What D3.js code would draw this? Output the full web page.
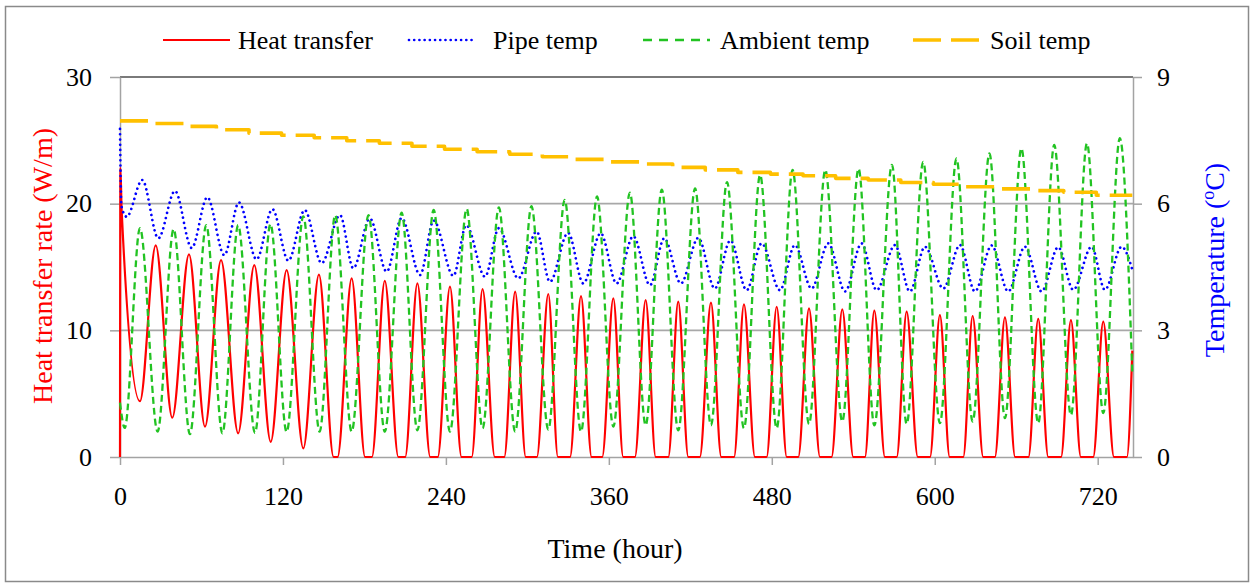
<!DOCTYPE html>
<html>
<head>
<meta charset="utf-8">
<script src="https://cdnjs.cloudflare.com/ajax/libs/d3/7.8.5/d3.min.js"></script>
<style>
  body { margin: 0; background: #fff; }
  svg { display: block; font-family: "Liberation Serif", "Times New Roman", serif; }
</style>
</head>
<body>
<svg id="chart" width="1253" height="586"></svg>
<script>
// Heat transfer rate (W/m): [hour, value] at turning points of each daily cycle
const heatTransfer = [
  [0,0],[0.3,22.8],[1.2,19.5],[14.7,4.4],[26.3,16.7],[38.5,3.1],[50.8,16.0],[62.6,2.4],
  [74.4,15.55],[87,1.87],[98.9,15.15],[111,1.2],[122.7,14.76],[135,0.68],[146.5,14.4],
  [157.3,0],[160.2,0],[170.6,14.1],[180.5,0],[185.5,0],[195,13.9],[205,0],[210,0],
  [219,13.7],[228.5,0],[234,0],[243,13.45],[251.5,0],[259,0],[267,13.26],[276,0],[283,0],
  [291,13.05],[298.8,0],[307,0],[315.4,12.87],[322.5,0],[331.4,0],[339.5,12.7],[347.3,0],
  [355.1,0],[363.3,12.52],[370.6,0],[379.2,0],[387.1,12.39],[394.5,0],[403.8,0],[411.1,12.26],
  [418.5,0],[427,0],[435.2,12.18],[442.8,0],[452.2,0],[459.5,12.05],[467.6,0],[476.2,0],
  [483.6,11.86],[491,0],[499.5,0],[507.4,11.73],[515.5,0],[524,0],[531.9,11.66],[540,0],
  [548.6,0],[555.5,11.55],[563.3,0],[572,0],[579.3,11.47],[587.5,0],[596.5,0],[603.8,11.2],
  [611,0],[621,0],[627.9,11.13],[635.7,0],[644.3,0],[651.7,11.03],[659.2,0],[669,0],
  [676.2,10.9],[683.6,0],[693,0],[700.3,10.81],[707.6,0],[716.7,0],[724.1,10.68],
  [732,0],[741.5,0],[745.5,8.4]
];

// Pipe temperature (°C)
const pipeTemp = [
  [0,7.77],[1.0,5.95],[4.9,5.69],[16.4,6.56],[28.2,5.18],[40.5,6.30],[52.8,4.95],[64.3,6.15],
  [76.8,4.78],[87.6,6.03],[100.6,4.68],[112.2,5.87],[124,4.65],[136,5.85],[148.5,4.59],
  [162,5.73],[171.8,4.47],[184,5.65],[196.4,4.39],[207.4,5.66],[221,4.31],[231,5.60],
  [245.5,4.29],[255,5.49],[268.8,4.27],[279,5.42],[293.3,4.23],[306.8,5.34],[316.6,4.15],
  [330,5.31],[341.2,4.11],[354,5.30],[365.7,4.11],[378,5.23],[390.3,4.07],[400.8,5.18],
  [413,4.11],[425.9,5.19],[438,3.99],[449.5,5.13],[461.5,3.95],[472.5,5.06],[486,3.95],
  [497,5.02],[509.3,3.99],[521.6,5.06],[534,3.92],[546.1,5.06],[557.2,3.95],[570.7,5.02],
  [581.7,3.92],[592.8,4.98],[606.3,3.99],[618.6,5.02],[629.6,3.92],[641.9,5.01],[654.1,3.92],
  [666.4,4.98],[678.7,3.92],[690.9,4.97],[702,3.96],[715.5,4.98],[725.3,3.96],[737.6,4.98],
  [745.5,4.44]
];

// Ambient temperature (°C)
const ambientTemp = [
  [0,1.29],[3.5,0.69],[14.7,5.42],[27.7,0.60],[39.5,5.40],[51.5,0.54],[63.5,5.49],[75.4,0.56],
  [87,5.49],[99.4,0.57],[110.8,5.52],[122.7,0.59],[135,5.70],[147,0.60],[158.5,5.73],
  [170.6,0.60],[183,5.73],[195,0.60],[207.4,5.79],[219,0.63],[231,5.85],[243,0.60],
  [255.3,5.88],[267,0.68],[279,5.91],[291,0.60],[303,5.94],[315.4,0.65],[327.5,6.09],
  [339.5,0.60],[351.3,6.17],[363.3,0.72],[375.5,6.26],[387.1,0.75],[399,6.33],[411.1,0.63],
  [423.5,6.36],[435.2,0.75],[447,6.51],[459.5,0.68],[471.4,6.68],[483.6,0.68],[495.3,6.80],
  [507.4,0.78],[519.4,6.80],[531.9,0.84],[543.9,6.83],[555.5,0.75],[568.5,6.92],[579.3,0.78],
  [591.5,6.99],[603.8,0.80],[616,7.07],[627.9,0.84],[640.3,7.19],[651.7,0.92],[663.8,7.31],
  [676.2,0.80],[688,7.39],[700.3,0.99],[712.1,7.43],[724.1,1.04],[736.3,7.55],[745.5,1.98]
];

// Soil temperature (°C): one value per day, changing at the listed hour
const soilStepHours = [0,23,47,71,95,119,143,167,191,215,239,263,287,311,335,359,
                       383,407,431,455,479,503,527,551,575,599,623,647,671,695,719];
const soilTemp = [7.96,7.90,7.83,7.75,7.67,7.62,7.56,7.49,7.43,7.36,7.29,7.23,7.17,7.11,7.05,6.99,
                  6.94,6.86,6.80,6.74,6.70,6.66,6.60,6.56,6.50,6.46,6.40,6.35,6.31,6.27,6.20];
const lastHour = 745.5;

const xTicks = [0,120,240,360,480,600,720];
const heatTicks = [0,10,20,30];
const tempTicks = [0,3,6,9];

const seriesNames = ["Heat transfer","Pipe temp","Ambient temp","Soil temp"];
const seriesColors = ["#ff0000","#0000ff","#22c322","#ffc000"];

const svg = d3.select("#chart");
const plot = {left:120, right:1133, top:77, bottom:457};

const x = d3.scaleLinear().domain([0, 746]).range([plot.left, plot.right]);
const yHeat = d3.scaleLinear().domain([0, 30]).range([plot.bottom, plot.top]);
const yTemp = d3.scaleLinear().domain([0, 9]).range([plot.bottom, plot.top]);

// outer chart frame
svg.append("rect")
  .attr("x", 5.5).attr("y", 6.5).attr("width", 1243).attr("height", 575)
  .attr("fill", "#fff").attr("stroke", "#8a8a8a").attr("stroke-width", 1.5);

// horizontal gridlines
svg.append("g").selectAll("line").data(heatTicks.filter(d => d > 0)).join("line")
  .attr("x1", plot.left).attr("x2", plot.right)
  .attr("y1", d => yHeat(d)).attr("y2", d => yHeat(d))
  .attr("stroke", d => d === 30 ? "#7a7a7a" : "#a8a8a8")
  .attr("stroke-width", d => d === 30 ? 1.8 : 1.6);

const axisColor = "#a3a3a3";
function styleAxis(g) {
  g.selectAll(".domain").attr("stroke", axisColor).attr("stroke-width", 1.5);
  g.selectAll(".tick line").attr("stroke", axisColor).attr("stroke-width", 1.5);
  g.selectAll(".tick text").attr("fill", "#000").attr("font-size", 26)
    .attr("font-family", "Liberation Serif, Times New Roman, serif");
}

// left axis (heat transfer rate)
svg.append("g").attr("transform", `translate(${plot.left},0)`)
  .call(d3.axisLeft(yHeat).tickValues(heatTicks).tickSize(10).tickSizeOuter(0).tickPadding(18))
  .call(styleAxis);

// right axis (temperature)
svg.append("g").attr("transform", `translate(${plot.right},0)`)
  .call(d3.axisRight(yTemp).tickValues(tempTicks).tickSize(9).tickSizeOuter(0).tickPadding(15))
  .call(styleAxis);

// bottom axis (time)
svg.append("g").attr("transform", `translate(0,${plot.bottom})`)
  .call(d3.axisBottom(x).tickValues(xTicks).tickSize(8).tickSizeOuter(0).tickPadding(22))
  .call(styleAxis);

// axis titles
svg.append("text")
  .attr("transform", "translate(52,266) rotate(-90)")
  .attr("text-anchor", "middle").attr("font-size", 28).attr("fill", "#ff0000")
  .text("Heat transfer rate (W/m)");

const tTitle = svg.append("text")
  .attr("transform", "translate(1224,260) rotate(-90)")
  .attr("text-anchor", "middle").attr("font-size", 28).attr("fill", "#0000ff");
tTitle.append("tspan").text("Temperature (");
tTitle.append("tspan").attr("font-size", 18).attr("dy", -10).text("o");
tTitle.append("tspan").attr("dy", 10).text("C)");

svg.append("text")
  .attr("x", 615).attr("y", 558)
  .attr("text-anchor", "middle").attr("font-size", 28).attr("fill", "#000")
  .text("Time (hour)");

// series
const heatLine = d3.line().x(d => x(d[0])).y(d => yHeat(d[1])).curve(d3.curveMonotoneX);
const tempLine = d3.line().x(d => x(d[0])).y(d => yTemp(d[1])).curve(d3.curveMonotoneX);
const soilLine = d3.line().x(d => x(d[0])).y(d => yTemp(d[1])).curve(d3.curveStepAfter);

const soilPoints = soilStepHours.map((h, i) => [h, soilTemp[i]]);
soilPoints.push([lastHour, soilTemp[soilTemp.length - 1]]);

const styles = [
  {width: 2.2, dash: null, cap: "butt"},
  {width: 2.7, dash: "0.01,5.2", cap: "round"},
  {width: 2.3, dash: "7,4", cap: "butt"},
  {width: 3.6, dash: "28,10", cap: "butt"}
];

const series = [
  {data: heatTransfer, gen: heatLine},
  {data: pipeTemp, gen: tempLine},
  {data: ambientTemp, gen: tempLine},
  {data: soilPoints, gen: soilLine}
];

const plotG = svg.append("g");
series.forEach((s, i) => {
  plotG.append("path")
    .attr("d", s.gen(s.data))
    .attr("fill", "none")
    .attr("stroke", seriesColors[i])
    .attr("stroke-width", styles[i].width)
    .attr("stroke-dasharray", styles[i].dash)
    .attr("stroke-linecap", styles[i].cap)
    .attr("stroke-linejoin", "round");
});

// legend
const legendItems = [
  {x1: 163, x2: 230, tx: 238},
  {x1: 409, x2: 475, tx: 493},
  {x1: 643, x2: 710, tx: 720},
  {x1: 913, x2: 980, tx: 990}
];
const legendY = 40;
const legend = svg.append("g");
legendItems.forEach((it, i) => {
  legend.append("line")
    .attr("x1", it.x1).attr("x2", it.x2).attr("y1", legendY).attr("y2", legendY)
    .attr("stroke", seriesColors[i])
    .attr("stroke-width", styles[i].width)
    .attr("stroke-dasharray", i === 2 ? "9,7" : styles[i].dash)
    .attr("stroke-linecap", styles[i].cap);
  legend.append("text")
    .attr("x", it.tx).attr("y", legendY + 9)
    .attr("font-size", 26).attr("fill", "#000")
    .text(seriesNames[i]);
});
</script>
</body>
</html>
